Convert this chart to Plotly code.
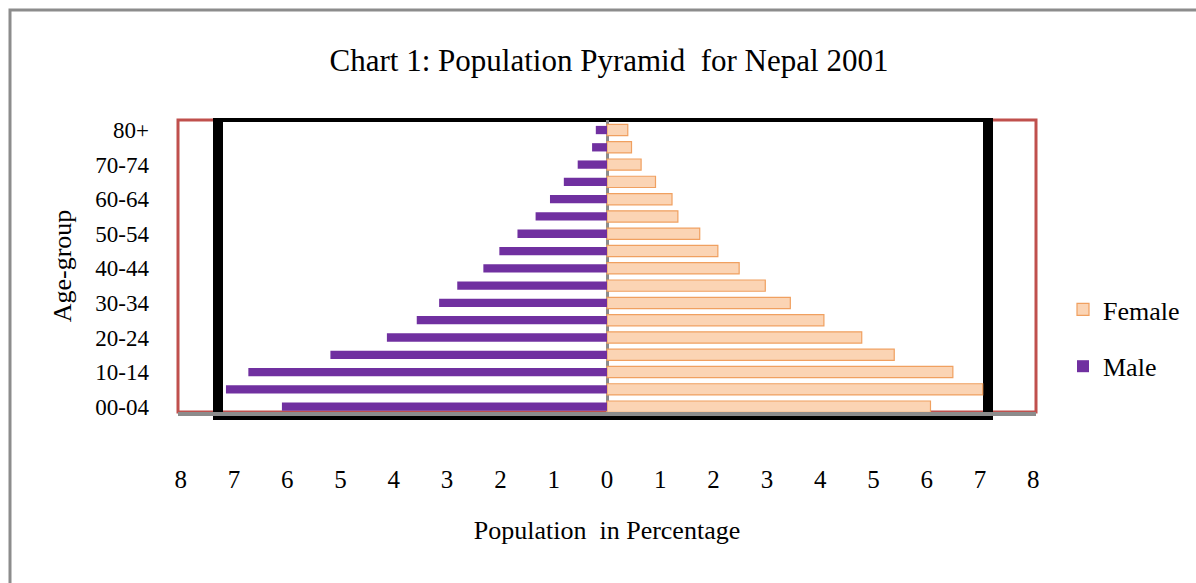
import plotly.graph_objects as go

age_groups = ["00-04", "05-09", "10-14", "15-19", "20-24", "25-29", "30-34", "35-39",
              "40-44", "45-49", "50-54", "55-59", "60-64", "65-69", "70-74", "75-79", "80+"]
male_pct = [6.10, 7.15, 6.73, 5.19, 4.13, 3.57, 3.15, 2.81, 2.32, 2.02, 1.68, 1.34,
            1.07, 0.81, 0.55, 0.28, 0.21]
female_pct = [6.07, 7.05, 6.49, 5.39, 4.78, 4.07, 3.44, 2.97, 2.48, 2.08, 1.74, 1.33,
              1.22, 0.91, 0.64, 0.46, 0.39]
x_tick_vals = list(range(-8, 9))
x_tick_text = [str(abs(v)) for v in x_tick_vals]
y_tick_labels = age_groups[::2]

FONT = "Liberation Serif, Times New Roman, serif"

fig = go.Figure()
fig.add_trace(go.Bar(
    y=age_groups, x=female_pct, orientation="h", name="Female",
    marker=dict(color="#FBD4B4", line=dict(color="#F0A060", width=1.2)), width=0.65,
    legendgroup="f", hoverinfo="skip",
))
fig.add_trace(go.Bar(
    y=age_groups, x=[-v for v in male_pct], orientation="h", name="Male",
    marker=dict(color="#7030A0", line=dict(width=0)), width=0.48,
    legendgroup="m", hoverinfo="skip",
))

L, R, T, B = 178, 1036, 120, 412
W, H = 1196, 583
pw, ph = R - L, B - T

def px(xp):
    return (xp - L) / pw

def py(yp):
    return (B - yp) / ph

shapes = [
    # outer grey border
    dict(type="rect", xref="paper", yref="paper", x0=px(10), x1=px(1210), y0=py(600), y1=py(10),
         line=dict(color="#8C8C8C", width=3), layer="below"),
    # red frame
    dict(type="rect", xref="paper", yref="paper", x0=0, x1=1, y0=0, y1=1,
         line=dict(color="#C0504D", width=3), layer="below"),
    # black inner frame pieces
    dict(type="rect", xref="paper", yref="paper", x0=px(213), x1=px(223), y0=py(420), y1=py(118),
         fillcolor="black", line=dict(width=0), layer="below"),
    dict(type="rect", xref="paper", yref="paper", x0=px(983), x1=px(993), y0=py(420), y1=py(118),
         fillcolor="black", line=dict(width=0), layer="below"),
    dict(type="rect", xref="paper", yref="paper", x0=px(213), x1=px(993), y0=py(122), y1=py(118),
         fillcolor="black", line=dict(width=0), layer="below"),
    dict(type="rect", xref="paper", yref="paper", x0=px(213), x1=px(993), y0=py(420), y1=py(412),
         fillcolor="black", line=dict(width=0), layer="below"),
]

fig.update_layout(
    width=W, height=H,
    margin=dict(l=L, r=W - R, t=T, b=H - B, pad=0),
    paper_bgcolor="white", plot_bgcolor="white",
    barmode="overlay",
    font=dict(family=FONT, color="black"),
    title=dict(text="Chart 1: Population Pyramid  for Nepal 2001",
               font=dict(family=FONT, size=31, color="black"),
               x=609 / W, xanchor="center", xref="container",
               y=1 - 60 / H, yanchor="middle", yref="container"),
    xaxis=dict(range=[-8.05, 8.05], tickvals=x_tick_vals, ticktext=x_tick_text,
               showgrid=False, zeroline=True, zerolinecolor="#8C8C8C", zerolinewidth=3,
               showline=True, linecolor="#8C8C8C", linewidth=4, ticks="",
               tickfont=dict(family=FONT, size=25), ticklabelstandoff=42,
               title=dict(text="Population  in Percentage", font=dict(family=FONT, size=26),
                          standoff=30),
               fixedrange=True),
    yaxis=dict(type="category", categoryorder="array", categoryarray=age_groups,
               range=[-0.31, 16.58], tickvals=y_tick_labels, ticktext=y_tick_labels,
               showgrid=False, zeroline=False, showline=False, ticks="",
               tickfont=dict(family=FONT, size=23), ticklabelstandoff=28,
               title=dict(text="Age-group", font=dict(family=FONT, size=26), standoff=16),
               fixedrange=True),
    legend=dict(xref="container", yref="container", x=1063 / W, xanchor="left",
                y=1 - 338 / H, yanchor="middle", traceorder="grouped",
                tracegroupgap=20, font=dict(family=FONT, size=26), itemwidth=30,
                bgcolor="rgba(0,0,0,0)"),
    shapes=shapes,
    showlegend=True,
)

fig.write_html("out.html", config={"staticPlot": True})
